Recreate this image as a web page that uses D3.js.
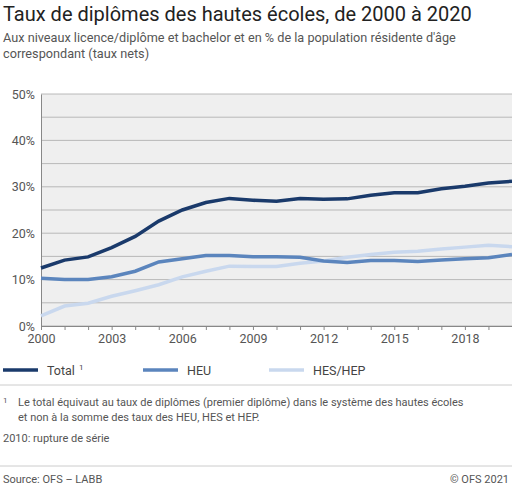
<!DOCTYPE html><html><head><meta charset="utf-8"><script src="https://cdn.jsdelivr.net/npm/d3@7"></script>
<style>body{margin:0;background:#fff;font-family:Roboto,sans-serif}</style></head><body><svg id="c" width="512" height="489"></svg>
<script>
const years=d3.range(2000,2021);
const total=[12.5,14.2,14.9,16.9,19.3,22.6,25.0,26.6,27.5,27.1,26.9,27.5,27.3,27.4,28.2,28.7,28.7,29.6,30.1,30.8,31.2];
const heu=[10.3,10.0,10.0,10.6,11.8,13.8,14.5,15.2,15.2,14.9,14.9,14.8,14.0,13.7,14.1,14.1,13.9,14.2,14.5,14.7,15.4];
const hes=[2.2,4.3,4.9,6.4,7.6,8.9,10.6,11.8,12.9,12.8,12.8,13.5,14.0,14.8,15.4,15.9,16.1,16.6,17.0,17.4,17.1];
const yTicks=[0,10,20,30,40,50];
const xTicks=[2000,2003,2006,2009,2012,2015,2018];
const series=[{name:"Total",v:total,c:"#1a3a6b"},{name:"HEU",v:heu,c:"#5b85bd"},{name:"HES/HEP",v:hes,c:"#c9d8ee"}];
const svg=d3.select("#c");
const x=d3.scaleLinear().domain([2000,2020]).range([41,512]);
const y=d3.scaleLinear().domain([0,50]).range([326,94]);
svg.append("text").attr("x",3).attr("y",21).attr("font-size",20).attr("fill","#222").text("Taux de diplômes des hautes écoles, de 2000 à 2020");
svg.append("text").attr("x",3).attr("y",42).attr("font-size",12.7).attr("fill","#555").text("Aux niveaux licence/diplôme et bachelor et en % de la population résidente d'âge");
svg.append("text").attr("x",3).attr("y",58).attr("font-size",12.7).attr("fill","#555").text("correspondant (taux nets)");
svg.append("rect").attr("x",41).attr("y",94).attr("width",471).attr("height",232).attr("fill","#efefef");
d3.range(0,51,5).forEach(t=>svg.append("line").attr("x1",41).attr("x2",512).attr("y1",y(t)).attr("y2",y(t)).attr("stroke","#aaa").attr("stroke-width",0.8));
svg.append("g").attr("transform","translate(41,0)").call(d3.axisLeft(y).tickValues(d3.range(0,51,5)).tickFormat(d=>yTicks.includes(d)?d+"%":"").tickSize(0).tickPadding(6))
 .call(g=>{g.select(".domain").attr("stroke","#888");g.selectAll("text").attr("font-size",12.5).attr("fill","#555").attr("font-family","Roboto")});
svg.append("g").attr("transform","translate(0,326)").call(d3.axisBottom(x).tickValues(years).tickFormat(d=>xTicks.includes(d)?d:"").tickSize(4).tickPadding(4))
 .call(g=>{g.select(".domain").attr("stroke","#888");g.selectAll("line").attr("stroke","#888");g.selectAll("text").attr("font-size",12.5).attr("fill","#555").attr("font-family","Roboto")});
const line=d3.line().x((d,i)=>x(years[i])).y(d=>y(d));
[2,1,0].forEach(i=>svg.append("path").attr("d",line(series[i].v)).attr("fill","none").attr("stroke",series[i].c).attr("stroke-width",3.5));
const lx=[3,143,269];
series.forEach((s,i)=>{svg.append("line").attr("x1",lx[i]).attr("x2",lx[i]+35).attr("y1",370).attr("y2",370).attr("stroke",s.c).attr("stroke-width",3.5);
 const t=svg.append("text").attr("x",lx[i]+44).attr("y",375).attr("font-size",12.5).attr("fill","#444").text(s.name);
 if(i===0)t.append("tspan").attr("dx",4).attr("dy",-5).attr("font-size",8).text("1");});
svg.append("line").attr("x1",0).attr("x2",512).attr("y1",385).attr("y2",385).attr("stroke","#ccc");
svg.append("text").attr("x",3).attr("y",403).attr("font-size",8).attr("fill","#555").text("1");
svg.append("text").attr("x",18).attr("y",406).attr("font-size",11).attr("fill","#555").text("Le total équivaut au taux de diplômes (premier diplôme) dans le système des hautes écoles");
svg.append("text").attr("x",18).attr("y",421).attr("font-size",11).attr("fill","#555").text("et non à la somme des taux des HEU, HES et HEP.");
svg.append("text").attr("x",3).attr("y",442).attr("font-size",11).attr("fill","#555").text("2010: rupture de série");
svg.append("line").attr("x1",0).attr("x2",512).attr("y1",466).attr("y2",466).attr("stroke","#ccc");
svg.append("text").attr("x",3).attr("y",483).attr("font-size",11).attr("fill","#555").text("Source: OFS – LABB");
svg.append("text").attr("x",509).attr("y",483).attr("text-anchor","end").attr("font-size",11).attr("fill","#555").text("© OFS 2021");
</script></body></html>
